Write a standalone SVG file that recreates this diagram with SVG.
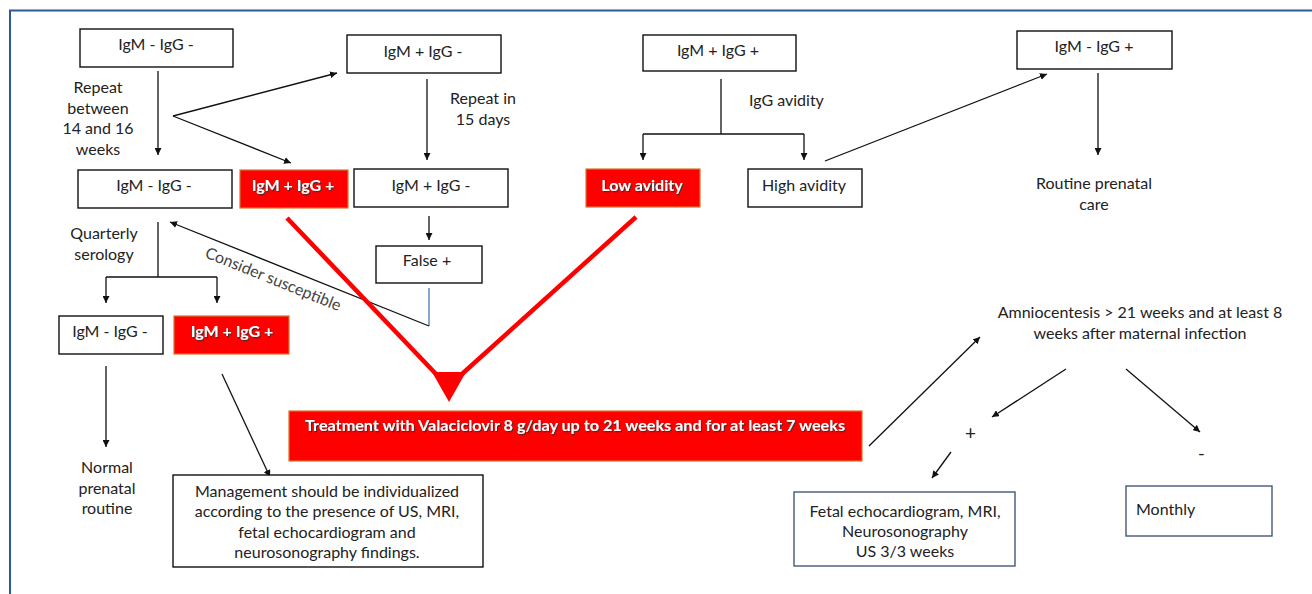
<svg xmlns="http://www.w3.org/2000/svg" width="1312" height="594" viewBox="0 0 1312 594">
<style>
text{font-family:Lato,"Open Sans","Liberation Sans",sans-serif;font-size:16px;fill:#222}
.b{fill:#fff;stroke:#111;stroke-width:1.4}
.bb{fill:#fff;stroke:#44597a;stroke-width:1.4}
.r{fill:#ff0000;stroke:#d7742f;stroke-width:1.2}
.w{fill:#fff;font-weight:bold;filter:url(#sh)}
.c{text-anchor:middle}
.ln{fill:none;stroke:#111;stroke-width:1.3}
.red{fill:none;stroke:#ff0000;stroke-width:4.5;stroke-linecap:butt}
</style>
<defs>
<marker id="a" viewBox="0 0 10 10" refX="10" refY="5" markerWidth="7" markerHeight="7" markerUnits="userSpaceOnUse" orient="auto">
<path d="M0,0 L10,5 L0,10 z" fill="#111"/>
</marker>
<filter id="sh" x="-10%" y="-30%" width="120%" height="160%">
<feDropShadow dx="1" dy="1.2" stdDeviation="0.6" flood-color="#333" flood-opacity="0.9"/>
</filter>
</defs>
<rect width="1312" height="594" fill="#fff"/>
<path d="M10,594 V10.5 H1312" fill="none" stroke="#2e5796" stroke-width="2"/>

<g id="connectors">
<path class="ln" d="M158,71 V155" marker-end="url(#a)"/>
<path class="ln" d="M173,116 L337,73" marker-end="url(#a)"/>
<path class="ln" d="M173,116 L291,163" marker-end="url(#a)"/>
<path class="ln" d="M427,79 V160" marker-end="url(#a)"/>
<path class="ln" d="M429,216 V240" marker-end="url(#a)"/>
<path class="ln" d="M158,222 V277 M106,277 H217"/>
<path class="ln" d="M106,277 V303" marker-end="url(#a)"/>
<path class="ln" d="M217,277 V303" marker-end="url(#a)"/>
<path d="M429,288 V326" fill="none" stroke="#3b6bb0" stroke-width="1.2"/>
<path class="ln" d="M429,326 L170,222" marker-end="url(#a)"/>
<path class="ln" d="M106,366 V447" marker-end="url(#a)"/>
<path class="ln" d="M222,374 L270,477" marker-end="url(#a)"/>
<path class="ln" d="M721,79 V134 M643,134 H804"/>
<path class="ln" d="M643,134 V160" marker-end="url(#a)"/>
<path class="ln" d="M804,134 V160" marker-end="url(#a)"/>
<path class="ln" d="M825,161 L1047,74" marker-end="url(#a)"/>
<path class="ln" d="M1098,73 V155" marker-end="url(#a)"/>
<path class="ln" d="M869,446 L980,337" marker-end="url(#a)"/>
<path class="ln" d="M1066,369 L992,417" marker-end="url(#a)"/>
<path class="ln" d="M1126,369 L1200,432" marker-end="url(#a)"/>
<path class="ln" d="M951,452 L932,478" marker-end="url(#a)"/>
<path class="red" d="M287,218 L436,374"/>
<path class="red" d="M636,217 L462,374"/>
<path d="M432,372 L466,372 L449,402 z" fill="#ff0000"/>
<text transform="translate(204,257) rotate(22)" style="fill:#444">Consider susceptible</text>
<text class="c" x="98" y="93">Repeat</text>
<text class="c" x="98" y="114">between</text>
<text class="c" x="98" y="134">14 and 16</text>
<text class="c" x="98" y="155">weeks</text>
<text class="c" x="483" y="104">Repeat in</text>
<text class="c" x="483" y="125">15 days</text>
<text class="c" x="104" y="239">Quarterly</text>
<text class="c" x="104" y="260">serology</text>
<text x="749" y="106">IgG avidity</text>
<text x="965" y="440" style="font-size:19px">+</text>
<text x="1198" y="460" style="font-size:18px">-</text>
</g>

<g id="n1"><rect class="b" x="80" y="29" width="153" height="38"/><text class="c" x="156" y="50">IgM - IgG -</text></g>
<g id="n2"><rect class="b" x="347" y="35" width="154" height="38"/><text class="c" x="423" y="57">IgM + IgG -</text></g>
<g id="n3"><rect class="b" x="78" y="170" width="154" height="38"/><text class="c" x="154" y="191">IgM - IgG -</text></g>
<g id="n4"><rect class="r" x="240" y="170" width="108" height="38"/><text class="c w" x="293" y="191">IgM + IgG +</text></g>
<g id="n5"><rect class="b" x="354" y="169" width="154" height="38"/><text class="c" x="431" y="191">IgM + IgG -</text></g>
<g id="n6"><rect class="b" x="376" y="246" width="106" height="37"/><text class="c" x="427" y="266">False +</text></g>
<g id="n7"><rect class="b" x="643" y="35" width="153" height="36"/><text class="c" x="718" y="56">IgM + IgG +</text></g>
<g id="n8"><rect class="r" x="586" y="169" width="114" height="38"/><text class="c w" x="642" y="191">Low avidity</text></g>
<g id="n9"><rect class="b" x="748" y="169" width="114" height="38"/><text class="c" x="804" y="191">High avidity</text></g>
<g id="n10"><rect class="b" x="1017" y="31" width="155" height="38"/><text class="c" x="1094" y="52">IgM - IgG +</text></g>
<g id="n11"><text class="c" x="1094" y="189">Routine prenatal</text><text class="c" x="1094" y="210">care</text></g>
<g id="n12"><rect class="b" x="59" y="316" width="104" height="38"/><text class="c" x="110" y="337">IgM - IgG -</text></g>
<g id="n13"><rect class="r" x="174" y="316" width="115" height="38"/><text class="c w" x="232" y="337">IgM + IgG +</text></g>
<g id="n14"><text class="c" x="107" y="473">Normal</text><text class="c" x="107" y="494">prenatal</text><text class="c" x="107" y="514">routine</text></g>
<g id="n15"><rect class="b" x="173" y="475" width="310" height="92"/>
<text class="c" x="327" y="497">Management should be individualized</text>
<text class="c" x="327" y="517">according to the presence of US, MRI,</text>
<text class="c" x="327" y="538">fetal echocardiogram and</text>
<text class="c" x="327" y="558">neurosonography findings.</text></g>
<g id="n16"><rect class="r" x="289" y="411" width="573" height="50"/><text class="c w" x="575" y="431" textLength="540" lengthAdjust="spacingAndGlyphs">Treatment with Valaciclovir 8 g/day up to 21 weeks and for at least 7 weeks</text></g>
<g id="n17"><text class="c" x="1140" y="318">Amniocentesis &gt; 21 weeks and at least 8</text><text class="c" x="1140" y="339">weeks after maternal infection</text></g>
<g id="n18"><rect class="bb" x="794" y="492" width="221" height="74"/>
<text class="c" x="905" y="517">Fetal echocardiogram, MRI,</text>
<text class="c" x="905" y="537">Neurosonography</text>
<text class="c" x="905" y="557">US 3/3 weeks</text></g>
<g id="n19"><rect class="bb" x="1126" y="486" width="146" height="50"/><text x="1136" y="515">Monthly</text></g>
</svg>
